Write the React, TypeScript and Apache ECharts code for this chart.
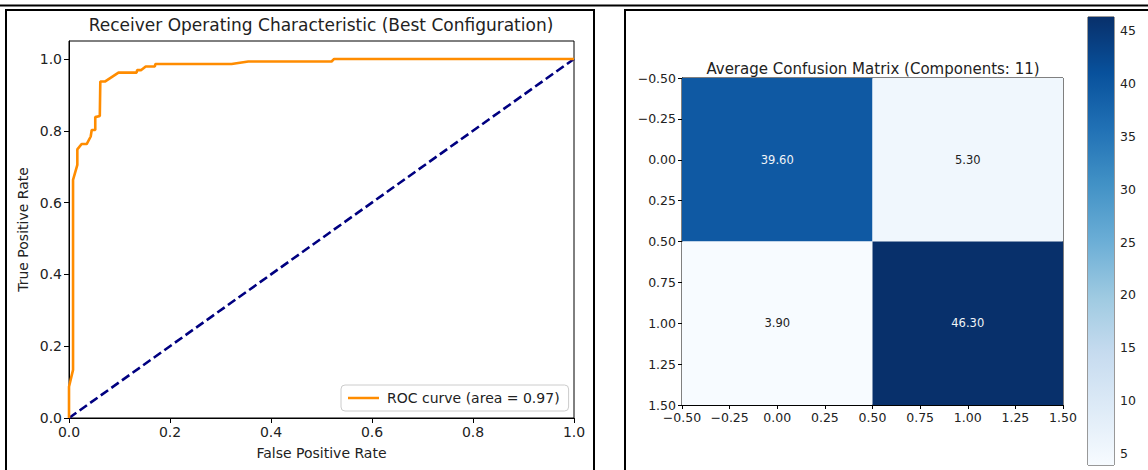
import React, { useEffect, useRef } from "react";
import * as echarts from "echarts";

// ROC curve
const rocFpr = [0, 0, 0.008, 0.008, 0.0165, 0.0165, 0.025, 0.035, 0.043, 0.045, 0.052, 0.052, 0.061, 0.062, 0.071, 0.098, 0.134, 0.135, 0.143, 0.152, 0.17, 0.171, 0.322, 0.355, 0.52, 0.525, 1.0];
const rocTpr = [0, 0.087, 0.134, 0.663, 0.705, 0.748, 0.763, 0.763, 0.784, 0.802, 0.802, 0.838, 0.841, 0.937, 0.937, 0.962, 0.962, 0.969, 0.969, 0.979, 0.979, 0.986, 0.986, 0.993, 0.993, 1.0, 1.0];
const rocLabel = "ROC curve (area = 0.97)";
const chanceFpr = [0, 1];
const chanceTpr = [0, 1];
const rocTicks = [0, 0.2, 0.4, 0.6, 0.8, 1.0];

// Confusion matrix
const cmCols = [0, 1];
const cmRows = [0, 1];
const cmValues = [
  [39.6, 5.3],
  [3.9, 46.3],
];
const cmTicks = [-0.5, -0.25, 0, 0.25, 0.5, 0.75, 1.0, 1.25, 1.5];
const cbarTicks = [5, 10, 15, 20, 25, 30, 35, 40, 45];
const cbarMin = 3.9;
const cbarMax = 46.3;
const blues = ["#f7fbff", "#deebf7", "#c6dbef", "#9ecae1", "#6baed6", "#4292c6", "#2171b5", "#08519c", "#08306b"];

const FONT = "DejaVu Sans";

export default function App() {
  const ref = useRef<HTMLDivElement>(null);
  useEffect(() => {
    document.body.style.margin = "0";
    const chart = echarts.init(ref.current!, null, { renderer: "svg" });

    const rocData = rocFpr.map((x, i) => [x, rocTpr[i]]);
    const chanceData = chanceFpr.map((x, i) => [x, chanceTpr[i]]);
    const cmData: number[][] = [];
    cmRows.forEach((r) => cmCols.forEach((c) => cmData.push([c, r, cmValues[r][c]])));
    const thresh = Math.max(...cmData.map((d) => d[2])) / 2;

    const minus = (v: number) => (v < 0 ? "\u2212" : "") + Math.abs(v).toFixed(2);
    const tickLbl = { color: "#222", fontFamily: FONT };

    chart.setOption({
      animation: false,
      textStyle: { fontFamily: FONT },
      grid: [
        { left: 69, top: 41, width: 505, height: 377, show: true, borderColor: "#000", borderWidth: 1 },
        { left: 682, top: 78, width: 381, height: 327, show: true, borderColor: "#000", borderWidth: 1 },
        { left: 1088, top: 17, width: 26, height: 448, show: true, borderColor: "#333", borderWidth: 1 },
      ],
      xAxis: [
        {
          type: "value", gridIndex: 0, min: 0, max: 1, interval: 0.2,
          name: "False Positive Rate", nameLocation: "middle", nameGap: 28,
          nameTextStyle: { fontSize: 14, color: "#222", fontFamily: FONT },
          axisLine: { onZero: false, lineStyle: { color: "#000" } },
          axisTick: { length: 5, lineStyle: { color: "#000" }, customValues: rocTicks },
          axisLabel: { ...tickLbl, fontSize: 14, margin: 7, customValues: rocTicks, formatter: (v: number) => v.toFixed(1) },
          splitLine: { show: false },
        },
        {
          type: "value", gridIndex: 1, min: -0.5, max: 1.5, interval: 0.25,
          axisLine: { onZero: false, lineStyle: { color: "#000" } },
          axisTick: { length: 4, lineStyle: { color: "#000" }, customValues: cmTicks },
          axisLabel: { ...tickLbl, fontSize: 12.5, margin: 6, customValues: cmTicks, formatter: minus },
          splitLine: { show: false },
        },
        { type: "value", gridIndex: 2, min: 0, max: 1, show: false },
      ],
      yAxis: [
        {
          type: "value", gridIndex: 0, min: 0, max: 1.05, interval: 0.2,
          name: "True Positive Rate", nameLocation: "middle", nameGap: 39, nameRotate: 90,
          nameTextStyle: { fontSize: 14, color: "#222", fontFamily: FONT },
          axisLine: { onZero: false, lineStyle: { color: "#000" } },
          axisTick: { length: 5, lineStyle: { color: "#000" }, customValues: rocTicks },
          axisLabel: { ...tickLbl, fontSize: 14, margin: 7, customValues: rocTicks, formatter: (v: number) => v.toFixed(1) },
          splitLine: { show: false },
        },
        {
          type: "value", gridIndex: 1, min: -0.5, max: 1.5, interval: 0.25, inverse: true,
          axisLine: { onZero: false, lineStyle: { color: "#000" } },
          axisTick: { length: 4, lineStyle: { color: "#000" }, customValues: cmTicks },
          axisLabel: { ...tickLbl, fontSize: 12.5, margin: 6, customValues: cmTicks, formatter: minus },
          splitLine: { show: false },
        },
        {
          type: "value", gridIndex: 2, min: cbarMin, max: cbarMax, position: "right",
          axisLine: { show: false },
          axisTick: { show: true, length: 4, lineStyle: { color: "#000" }, customValues: cbarTicks },
          axisLabel: { ...tickLbl, fontSize: 12.5, margin: 6, customValues: cbarTicks },
          splitLine: { show: false },
        },
      ],
      visualMap: {
        type: "continuous", show: false, seriesIndex: 2, dimension: 2,
        min: cbarMin, max: cbarMax, inRange: { color: blues },
      },
      legend: {
        data: [{ name: rocLabel, icon: "rect" }], left: 341, top: 385,
        padding: [6, 9, 6, 7], itemWidth: 31, itemHeight: 2.5, itemGap: 8,
        borderColor: "#ccc", borderWidth: 1, borderRadius: 4,
        backgroundColor: "rgba(255,255,255,0.8)",
        textStyle: { fontSize: 14, color: "#222", fontFamily: FONT, padding: [0, 0, 0, 3] },
      },
      series: [
        {
          type: "line", name: rocLabel, xAxisIndex: 0, yAxisIndex: 0, data: rocData,
          symbol: "none", lineStyle: { color: "#ff8c00", width: 2.6 }, itemStyle: { color: "#ff8c00" }, z: 3,
        },
        {
          type: "line", name: "chance", xAxisIndex: 0, yAxisIndex: 0, data: chanceData,
          symbol: "none", lineStyle: { color: "#000080", width: 2.6, type: [9, 4] }, itemStyle: { color: "#000080" }, z: 2,
        },
        {
          type: "custom", name: "cm", xAxisIndex: 1, yAxisIndex: 1, data: cmData,
          silent: true,
          renderItem: (params: any, api: any) => {
            const x = api.value(0), y = api.value(1), v = api.value(2);
            const p0 = api.coord([x - 0.5, y - 0.5]);
            const p1 = api.coord([x + 0.5, y + 0.5]);
            return {
              type: "rect",
              shape: { x: Math.min(p0[0], p1[0]), y: Math.min(p0[1], p1[1]), width: Math.abs(p1[0] - p0[0]), height: Math.abs(p1[1] - p0[1]) },
              style: { fill: api.visual("color") },
              textContent: {
                style: { text: v.toFixed(2), fill: v > thresh ? "#f0f4f8" : "#222", font: `11.5px '${FONT}'` },
              },
              textConfig: { position: "inside" },
            };
          },
        },
        {
          type: "custom", name: "cbar", xAxisIndex: 2, yAxisIndex: 2, data: [[0]],
          silent: true,
          renderItem: (params: any, api: any) => {
            const p0 = api.coord([0, cbarMin]);
            const p1 = api.coord([1, cbarMax]);
            return {
              type: "rect",
              shape: { x: p0[0], y: p1[1], width: p1[0] - p0[0], height: p0[1] - p1[1] },
              style: {
                fill: {
                  type: "linear", x: 0, y: 1, x2: 0, y2: 0,
                  colorStops: blues.map((c, i) => ({ offset: i / (blues.length - 1), color: c })),
                },
              },
            };
          },
        },
      ],
      graphic: [
        { type: "line", shape: { x1: 0, y1: 5.5, x2: 1148, y2: 5.5 }, style: { stroke: "#000", lineWidth: 2 } },
        { type: "rect", shape: { x: 6, y: 10, width: 588, height: 470 }, style: { fill: "none", stroke: "#000", lineWidth: 2 } },
        { type: "rect", shape: { x: 625, y: 10, width: 530, height: 470 }, style: { fill: "none", stroke: "#000", lineWidth: 2 } },
        {
          type: "text", x: 321, y: 25,
          style: { text: "Receiver Operating Characteristic (Best Configuration)", align: "center", verticalAlign: "middle", font: `17px '${FONT}'`, fill: "#222" },
        },
        {
          type: "text", x: 873, y: 69,
          style: { text: "Average Confusion Matrix (Components: 11)", align: "center", verticalAlign: "middle", font: `15px '${FONT}'`, fill: "#222" },
        },
      ],
    });
    return () => chart.dispose();
  }, []);
  return <div ref={ref} style={{ width: 1148, height: 470 }} />;
}
